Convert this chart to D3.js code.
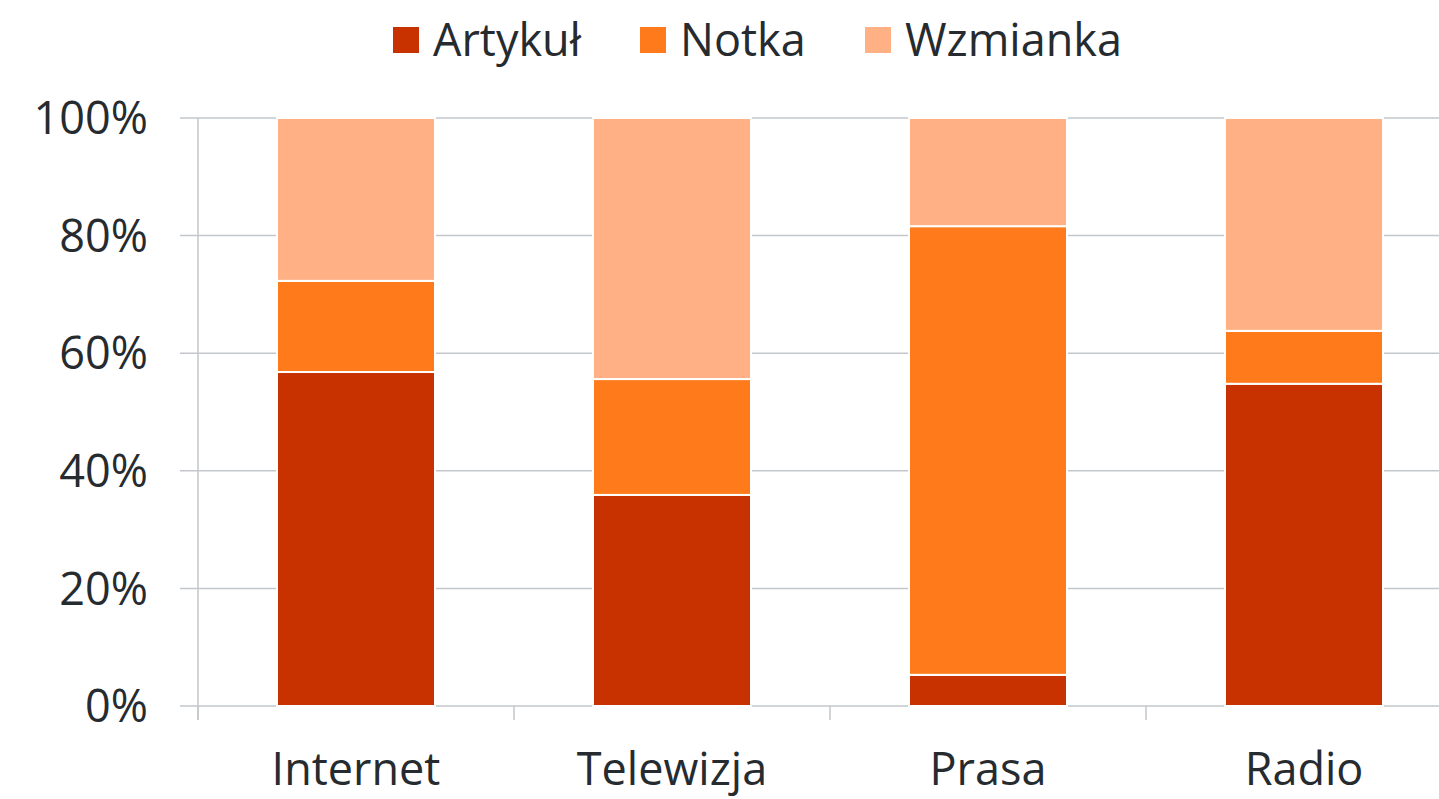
<!DOCTYPE html>
<html lang="pl">
<head>
<meta charset="UTF-8"/>
<script src="https://d3js.org/d3.v7.min.js"></script>
<style>
  body { margin: 0; background: #fff; }
  text { font-family: "Open Sans", "Noto Sans", sans-serif; fill: #262b30; }
</style>
</head>
<body>
<script>
  // values (percent of each medium)
  var categories = ["Internet", "Telewizja", "Prasa", "Radio"];
  var seriesNames = ["Artykuł", "Notka", "Wzmianka"];
  var artykul  = [56.8, 35.9, 5.3, 54.8];
  var notka    = [15.5, 19.7, 76.3, 9.0];
  var wzmianka = [27.7, 44.4, 18.4, 36.2];
  var yTicks = [0, 20, 40, 60, 80, 100];
  var colors = ["#c83100", "#ff7a1a", "#ffb085"];

  var w = 1439, h = 799;

  var rows = categories.map(function(c, i) {
    return { cat: c, "Artykuł": artykul[i], "Notka": notka[i], "Wzmianka": wzmianka[i] };
  });
  var stacked = d3.stack().keys(seriesNames)(rows);

  var xScale = d3.scaleBand()
                 .domain(categories)
                 .range([198, 1462])
                 .paddingInner(0.5)
                 .paddingOuter(0.25);

  var yScale = d3.scaleLinear()
                 .domain([0, 100])
                 .range([706, 118]);

  var svg = d3.select("body")
              .append("svg")
              .attr("width", w)
              .attr("height", h);

  // horizontal gridlines
  svg.append("g")
     .selectAll("line")
     .data(yTicks)
     .enter()
     .append("line")
     .attr("x1", 180)
     .attr("x2", w)
     .attr("y1", function(d) { return yScale(d); })
     .attr("y2", function(d) { return yScale(d); })
     .attr("stroke", "#c3c7cb")
     .attr("stroke-width", 1.5);

  // left axis line and category separator ticks
  svg.append("line")
     .attr("x1", 198).attr("x2", 198)
     .attr("y1", yScale(100)).attr("y2", 720)
     .attr("stroke", "#c3c7cb").attr("stroke-width", 1.5);

  var step = xScale.step();
  svg.append("g")
     .selectAll("line")
     .data(categories)
     .enter()
     .append("line")
     .attr("x1", function(d) { return xScale(d) - step * 0.25; })
     .attr("x2", function(d) { return xScale(d) - step * 0.25; })
     .attr("y1", yScale(0))
     .attr("y2", 720)
     .attr("stroke", "#c3c7cb")
     .attr("stroke-width", 1.5);

  // bars
  svg.append("g")
     .selectAll("g")
     .data(stacked)
     .enter()
     .append("g")
     .attr("fill", function(d, i) { return colors[i]; })
     .selectAll("rect")
     .data(function(d) { return d; })
     .enter()
     .append("rect")
     .attr("x", function(d) { return xScale(d.data.cat); })
     .attr("width", xScale.bandwidth())
     .attr("y", function(d) { return yScale(d[1]); })
     .attr("height", function(d) { return yScale(d[0]) - yScale(d[1]); })
     .attr("stroke", "#fff")
     .attr("stroke-width", 2);

  // y labels
  svg.append("g")
     .selectAll("text")
     .data(yTicks)
     .enter()
     .append("text")
     .attr("x", 148)
     .attr("y", function(d) { return yScale(d); })
     .attr("dy", "0.36em")
     .attr("text-anchor", "end")
     .style("font-size", "45px")
     .text(function(d) { return d + "%"; });

  // x labels
  svg.append("g")
     .selectAll("text")
     .data(categories)
     .enter()
     .append("text")
     .attr("x", function(d) { return xScale(d) + xScale.bandwidth() / 2; })
     .attr("y", 769)
     .attr("dy", "0.36em")
     .attr("text-anchor", "middle")
     .style("font-size", "45px")
     .text(function(d) { return d; });

  // legend
  var legendX = [393, 640, 865];
  var legend = svg.append("g")
                  .selectAll("g")
                  .data(seriesNames)
                  .enter()
                  .append("g")
                  .attr("transform", function(d, i) { return "translate(" + legendX[i] + ",0)"; });

  legend.append("rect")
        .attr("x", 0).attr("y", 27)
        .attr("width", 26).attr("height", 26)
        .attr("fill", function(d, i) { return colors[i]; });

  legend.append("text")
        .attr("x", 40)
        .attr("y", 40)
        .attr("dy", "0.36em")
        .style("font-size", "45px")
        .text(function(d) { return d; });
</script>
</body>
</html>
